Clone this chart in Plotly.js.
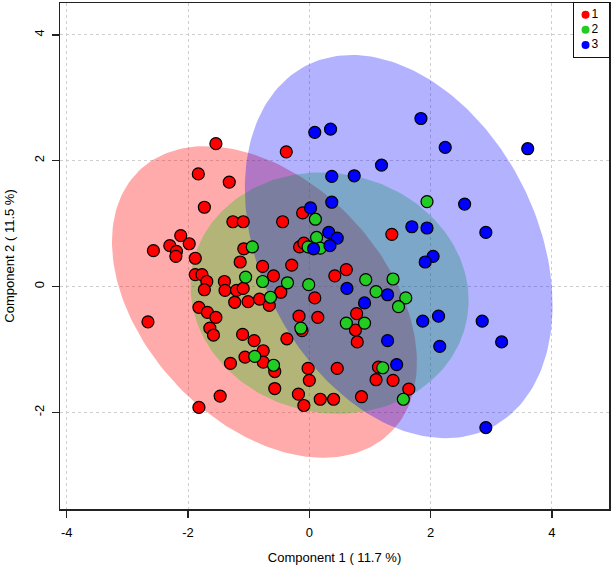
<!DOCTYPE html>
<html>
<head>
<meta charset="utf-8">
<script src="https://cdn.plot.ly/plotly-3.0.1.min.js"></script>
<style>html,body{margin:0;padding:0;background:#fff;}#chart{width:615px;height:568px;}</style>
</head>
<body>
<div id="chart"></div>
<script>
// ---- data (scores on components 1 and 2) ----
const groups = ['1', '2', '3'];

const g1x = [-1.54,-0.38,-1.83,-1.32,-1.73,-1.26,-1.09,-0.44,-0.11,-2.12,-1.98,-2.30,-2.19,-2.20,-2.57,-1.88,-1.08,-1.14,-0.77,-0.29,-0.16,-0.09,
             1.36,0.61,0.42,0.09,-0.17,0.14,0.78,0.76,0.79,-0.37,-0.02,0.00,0.46,1.14,1.10,1.38,1.64,-0.18,-0.09,0.18,0.40,0.86,
             -1.88,-1.77,-1.69,-1.73,-1.40,-1.39,-1.20,-1.09,-0.59,-0.47,-1.23,-1.01,-0.82,-0.66,
             -1.82,-1.68,-1.54,-2.66,-1.64,-1.58,-1.10,-0.91,-0.76,-1.06,-0.76,-1.30,-0.57,-0.57,-1.47,-1.82,-0.12];
const g1y = [2.27,2.14,1.79,1.66,1.26,1.03,1.03,1.03,1.17,0.81,0.68,0.65,0.56,0.48,0.57,0.45,0.60,0.39,0.32,0.34,0.63,0.69,
             0.83,0.27,0.17,-0.18,-0.47,-0.49,-0.43,-0.69,-0.88,-0.83,-1.30,-1.49,-1.30,-1.28,-1.48,-1.49,-1.63,-1.71,-1.89,-1.79,-1.79,-1.75,
             0.19,0.19,0.08,-0.05,0.08,-0.06,-0.06,-0.03,0.17,-0.09,-0.25,-0.24,-0.20,-0.30,
             -0.33,-0.41,-0.49,-0.56,-0.66,-0.77,-0.76,-0.86,-1.02,-1.12,-1.20,-1.22,-1.35,-1.62,-1.74,-1.92,-0.70];

const g2x = [-0.94,0.10,0.12,-0.02,0.18,1.94,-1.05,-0.77,-0.36,-0.01,-0.64,-0.14,-0.90,-0.59,0.93,1.38,1.10,1.59,1.47,0.61,0.91,1.21,1.55];
const g2y = [0.63,1.07,0.78,0.63,0.61,1.35,0.15,0.08,0.06,0.03,-0.17,-0.66,-1.11,-1.25,0.11,0.12,-0.08,-0.18,-0.32,-0.58,-0.58,-1.29,-1.79];

const g3x = [1.84,0.09,0.35,2.24,3.60,1.19,0.37,0.74,0.37,2.56,0.02,1.69,1.94,2.91,0.32,0.46,0.34,0.07,2.04,1.91,0.62,1.29,0.91,1.87,2.13,2.85,1.29,2.15,1.44,2.91,3.17];
const g3y = [2.67,2.45,2.50,2.21,2.19,1.93,1.75,1.76,1.34,1.31,1.25,0.95,0.93,0.86,0.86,0.77,0.65,0.60,0.48,0.39,-0.03,-0.13,-0.26,-0.55,-0.47,-0.55,-0.86,-0.95,-1.24,-2.24,-0.88];

const xTickVals = [-4, -2, 0, 2, 4];
const xTickText = ['-4', '-2', '0', '2', '4'];
const yTickVals = [-2, 0, 2, 4];
const yTickText = ['-2', '0', '2', '4'];
const xTitle = 'Component 1 ( 11.7 %)';
const yTitle = 'Component 2 ( 11.5 %)';

// ---- styles ----
const pointColors = ['#ff0000', '#22cc22', '#0000ff'];
const fillColors = ['rgba(255,0,0,0.33)', 'rgba(0,205,0,0.30)', 'rgba(0,0,255,0.30)'];
const FONT = 'Liberation Sans, Arial, sans-serif';

// 95% confidence ellipse from the sample covariance of each group
function confEllipse(xs, ys, level) {
  const n = xs.length;
  const mx = xs.reduce((a, b) => a + b, 0) / n;
  const my = ys.reduce((a, b) => a + b, 0) / n;
  let sxx = 0, syy = 0, sxy = 0;
  for (let i = 0; i < n; i++) {
    const dx = xs[i] - mx, dy = ys[i] - my;
    sxx += dx * dx; syy += dy * dy; sxy += dx * dy;
  }
  sxx /= (n - 1); syy /= (n - 1); sxy /= (n - 1);
  const T = (sxx + syy) / 2, D = Math.sqrt(((sxx - syy) / 2) ** 2 + sxy * sxy);
  const l1 = T + D, l2 = Math.max(T - D, 0);
  const th = 0.5 * Math.atan2(2 * sxy, sxx - syy);
  const c = Math.sqrt(-2 * Math.log(1 - level)); // sqrt(qchisq(level, 2))
  const ex = [], ey = [];
  for (let k = 0; k <= 200; k++) {
    const t = 2 * Math.PI * k / 200;
    const a = c * Math.sqrt(l1) * Math.cos(t), b = c * Math.sqrt(l2) * Math.sin(t);
    ex.push(mx + a * Math.cos(th) - b * Math.sin(th));
    ey.push(my + a * Math.sin(th) + b * Math.cos(th));
  }
  return {x: ex, y: ey};
}

const dataX = [g1x, g2x, g3x];
const dataY = [g1y, g2y, g3y];
const traces = [];

groups.forEach((g, i) => {
  const e = confEllipse(dataX[i], dataY[i], 0.95);
  traces.push({
    type: 'scatter', mode: 'lines', x: e.x, y: e.y, fill: 'toself',
    fillcolor: fillColors[i], line: {width: 0, color: 'rgba(0,0,0,0)'},
    hoverinfo: 'skip', showlegend: false
  });
});
groups.forEach((g, i) => {
  traces.push({
    type: 'scatter', mode: 'markers', x: dataX[i], y: dataY[i], name: g,
    marker: {size: 12, color: pointColors[i], line: {color: '#000', width: 1.2}},
    showlegend: false
  });
});
// legend box (small inset subplot in the top-right corner)
traces.push({
  type: 'scatter', mode: 'markers+text', xaxis: 'x2', yaxis: 'y2',
  x: groups.map(() => 0.33),
  y: groups.map((g, i) => 0.78 - i * 0.28),
  text: groups, textposition: 'middle right',
  textfont: {family: FONT, size: 12, color: '#000'},
  marker: {size: 8, color: pointColors},
  showlegend: false, hoverinfo: 'skip'
});

const axisCommon = {
  showline: true, mirror: true, linecolor: '#222', linewidth: 1.5,
  ticks: 'outside', ticklen: 7, tickcolor: '#222', tickwidth: 1.5,
  showgrid: true, gridcolor: '#cfcfcf', griddash: 'dot', gridwidth: 1,
  zeroline: false, tickmode: 'array',
  tickfont: {family: FONT, size: 13, color: '#000'}
};
const insetAxis = {
  range: [0, 1], showline: true, mirror: true, linecolor: '#111', linewidth: 1.2,
  showgrid: false, zeroline: false, showticklabels: false, ticks: '', fixedrange: true
};

const layout = {
  width: 615, height: 568,
  margin: {l: 60, r: 6, t: 3, b: 59},
  paper_bgcolor: '#fff', plot_bgcolor: 'rgba(0,0,0,0)',
  font: {family: FONT, size: 13, color: '#000'},
  showlegend: false,
  xaxis: Object.assign({}, axisCommon, {
    range: [-4.11, 4.94], tickvals: xTickVals, ticktext: xTickText,
    ticklabelstandoff: 4,
    title: {text: xTitle, font: {family: FONT, size: 13}, standoff: 14}
  }),
  yaxis: Object.assign({}, axisCommon, {
    range: [-3.534, 4.505], tickvals: yTickVals, ticktext: yTickText,
    tickangle: -90, ticklabelstandoff: 2,
    title: {text: yTitle, font: {family: FONT, size: 13}, standoff: 14}
  }),
  xaxis2: Object.assign({}, insetAxis, {domain: [0.9362, 1], anchor: 'y2'}),
  yaxis2: Object.assign({}, insetAxis, {domain: [0.8938, 1], anchor: 'x2'}),
  shapes: [{
    type: 'rect', xref: 'x2', yref: 'y2', x0: 0, x1: 1, y0: 0, y1: 1,
    fillcolor: '#fff', line: {width: 0}, layer: 'below'
  }]
};

Plotly.newPlot('chart', traces, layout, {displayModeBar: false, staticPlot: true});
</script>
</body>
</html>
